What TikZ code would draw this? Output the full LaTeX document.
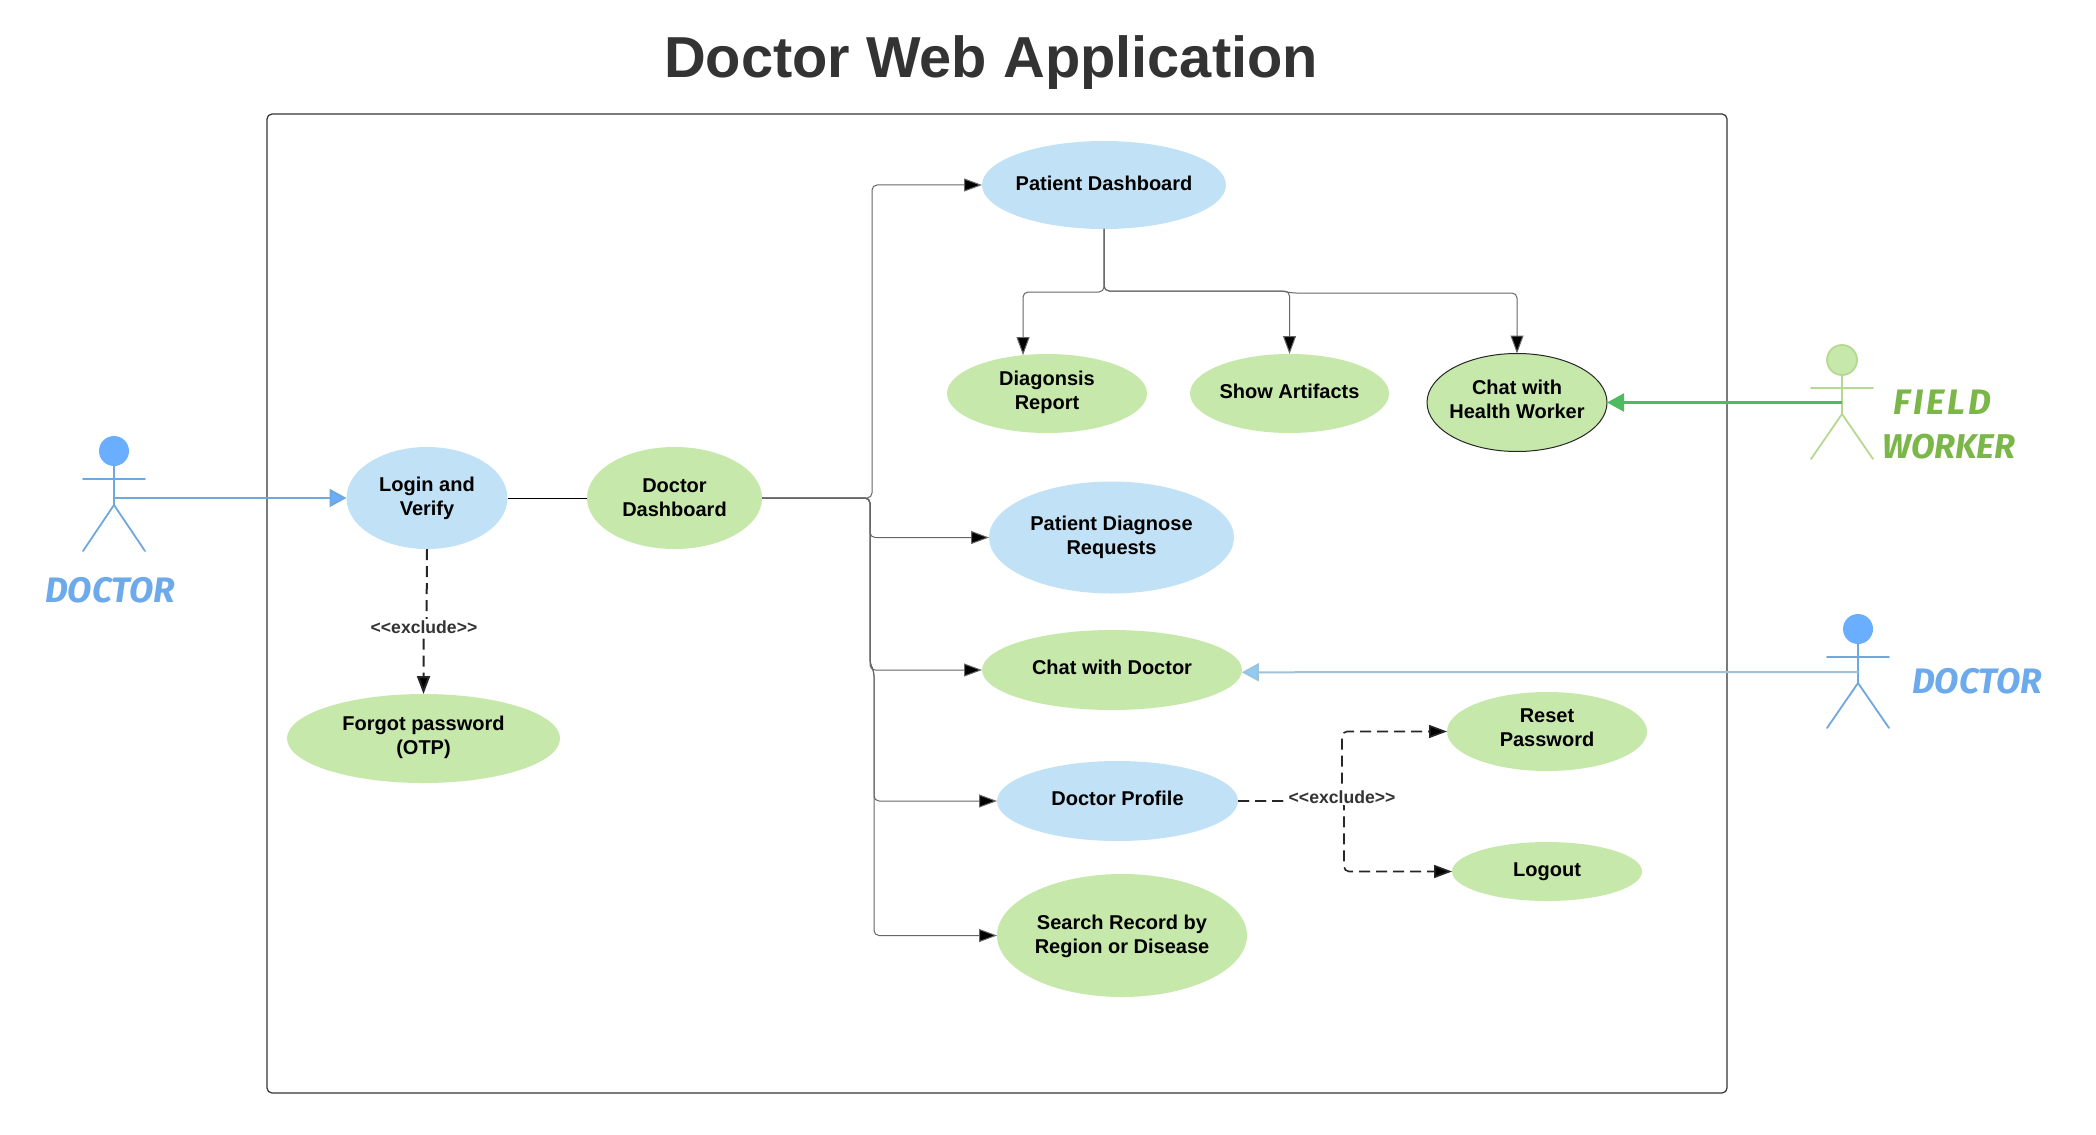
\documentclass[tikz,border=0pt]{standalone}
\usepackage{fontspec}
\setmainfont{Liberation Sans}
\newfontfamily\comicish{Fira Sans}
\usetikzlibrary{arrows.meta,shapes.geometric}
\definecolor{ucblue}{HTML}{C1E2F6}
\definecolor{ucgreen}{HTML}{C6E8AB}
\definecolor{actblue}{HTML}{6FA8DC}
\definecolor{headblue}{HTML}{6AAEFF}
\definecolor{txtblue}{HTML}{6DAAEC}
\definecolor{actgreen}{HTML}{B5D98F}
\definecolor{txtgreen}{HTML}{7AB648}
\definecolor{arrgreen}{HTML}{4DBB5F}
\definecolor{arrsky}{HTML}{8FCBF2}
\definecolor{linesky}{HTML}{9DC3DC}
\definecolor{darktxt}{HTML}{333333}
% a line that does not widen its ellipse
\newcommand{\nb}[1]{\makebox[0pt]{#1}}
% extra depth / height: moves the text up / down inside its ellipse
\newcommand{\tup}[1]{\rule[-#1pt]{0pt}{0pt}}
\newcommand{\tdn}[1]{\rule{0pt}{#1pt}}
\tikzset{
  uc/.style={ellipse,inner sep=0pt,outer sep=0pt,align=center,font=\fontsize{10}{12}\selectfont\bfseries,text=black},
  ucb/.style={uc,fill=ucblue},
  ucg/.style={uc,fill=ucgreen},
  flow/.style={draw=black!60,line width=0.5pt,rounded corners=2.5pt,-{Triangle[length=9pt,width=6.5pt,fill=black]}},
  plain/.style={draw=black,line width=0.5pt},
  excl/.style={draw=black!85,line width=0.8pt,dash pattern=on 5.5pt off 3pt,rounded corners=2.5pt,-{Triangle[length=9pt,width=6.5pt,fill=black]}},
  excllab/.style={fill=white,inner xsep=0pt,inner ysep=1pt,font=\fontsize{8.8}{10}\selectfont\bfseries,text=darktxt},
  limb/.style={line width=0.9pt,line cap=round},
  actlabel/.style={font=\comicish\fontsize{17.7}{20}\selectfont\bfseries\itshape,inner sep=0pt},
  head/.style={ellipse,inner sep=0pt,outer sep=0pt,minimum width=15pt,minimum height=15pt},
}
\begin{document}
\begin{tikzpicture}[x=0.5pt,y=-0.5pt]
\useasboundingbox (0,0) rectangle (2096,1134);
\fill[white] (0,0) rectangle (2096,1134);
\node[anchor=base,font=\fontsize{28.9}{34}\selectfont\bfseries,text=darktxt,inner sep=0pt] (title) at (991,78) {Doctor Web Application};
\node[draw=darktxt,line width=0.6pt,rounded corners=2.5pt,minimum width=730pt,minimum height=489.5pt,inner sep=0pt] (sysbox) at (997,603.5) {};

% use cases
\node[ucb,minimum width=80.5pt,minimum height=51pt] (login) at (427,498) {Login and\\Verify};
\node[ucg,minimum width=87.5pt,minimum height=51pt] (dash) at (674.5,498) {Doctor\\Dashboard};
\node[ucg,minimum width=136.5pt,minimum height=44.5pt] (forgot) at (423.5,738.5) {\nb{Forgot password}\\(OTP)\tup{3.3}};
\node[ucb,minimum width=122pt,minimum height=44pt] (pdash) at (1104,185) {\nb{Patient Dashboard}\tup{1.5}};
\node[ucg,minimum width=100pt,minimum height=39.5pt] (report) at (1047,393.5) {Diagonsis\\Report\tup{3.1}};
\node[ucg,minimum width=99.5pt,minimum height=39.5pt] (artifacts) at (1289.5,393.5) {\nb{Show Artifacts}\tup{2.7}};
\node[ucg,draw=black!85,line width=0.5pt,minimum width=90pt,minimum height=49pt] (chathw) at (1517,402.5) {Chat with\\\nb{Health Worker}\tup{2.9}};
\node[ucb,minimum width=122.5pt,minimum height=56pt] (diag) at (1111.5,537.5) {\nb{Patient Diagnose}\\Requests};
\node[ucg,minimum width=130pt,minimum height=40pt] (chatdoc) at (1112,670) {\nb{Chat with Doctor}\tup{2.7}};
\node[ucb,minimum width=120.5pt,minimum height=40pt] (profile) at (1117.5,801) {\nb{Doctor Profile}\tup{2.7}};
\node[ucg,minimum width=125pt,minimum height=61.5pt] (search) at (1122,935.5) {\nb{Search Record by}\tdn{8.5}\\\nb{Region or Disease}};
\node[ucg,minimum width=100pt,minimum height=39.5pt] (reset) at (1547,731.5) {Reset\\Password\tup{4}};
\node[ucg,minimum width=95pt,minimum height=29.5pt] (logout) at (1547,871.5) {Logout};

% left doctor
\node[head,fill=headblue] (hdl) at (114,451) {};
\coordinate (hipl) at (114,505);
\coordinate (handl) at (114,498);
\draw[limb,actblue] (hdl.south) -- (hipl) -- (83,551) (hipl) -- (145,551) (83,479) -- (145,479);
\node[actlabel,text=txtblue] (ldl) at (110,590) {DOCTOR};

% field worker
\node[head,fill=ucgreen,draw=actgreen,line width=0.9pt] (hfw) at (1842,360) {};
\coordinate (hipf) at (1842,414);
\coordinate (handf) at (1842,402.5);
\draw[limb,actgreen] (hfw.south) -- (hipf) -- (1811,459) (hipf) -- (1873,459) (1811,388) -- (1873,388);
\node[actlabel,text=txtgreen] (lfw1) at (1942,402) {\addfontfeature{LetterSpace=8}FIELD};
\node[actlabel,text=txtgreen,font=\comicish\fontsize{17.2}{20}\selectfont\bfseries\itshape] (lfw2) at (1949,447) {WORKER};

% right doctor
\node[head,fill=headblue] (hdr) at (1858,629) {};
\coordinate (hipr) at (1858,683);
\coordinate (handr) at (1858,672);
\draw[limb,actblue] (hdr.south) -- (hipr) -- (1827,728) (hipr) -- (1889,728) (1827,657) -- (1889,657);
\node[actlabel,text=txtblue] (ldr) at (1977,681) {DOCTOR};

% actor links
\draw[line width=1.1pt,actblue,-{Triangle[length=8.5pt,width=9pt,fill=headblue]}] (handl) -- (login.west);
\draw[line width=1.1pt,arrgreen,-{Triangle[length=8.5pt,width=9pt,fill=arrgreen]}] (handf) -- (chathw.east);
\draw[line width=1pt,linesky,-{Triangle[length=8.5pt,width=9pt,fill=arrsky]}] (handr) -- (chatdoc.-1);

% flows
\draw[plain] (login.east) -- (dash.west);
\draw[flow] (dash.east) -- (872,498) |- (pdash.west);
\draw[flow] (dash.east) -- (870,498) |- (diag.west);
\draw[flow] (dash.east) -- (870,498) |- (chatdoc.west);
\draw[flow] (dash.east) -- (870,498) -- (870,664) -- (874,671) |- (profile.west);
\draw[flow] (dash.east) -- (870,498) -- (870,664) -- (874,671) |- (search.west);

\draw[flow] (pdash.south) -- (1104,292) -| (report.122);
\draw[flow] (pdash.south) -- (1104,291) -| (artifacts.north);
\draw[flow] (pdash.south) -- (1104,291) -- (1283,291) -- (1291,293) -| (chathw.north);

% exclude
\draw[excl,line width=1pt] (login.south) -- (426.5,627) -- (423.5,627) -- (forgot.north);
\node[excllab] (ex1) at (424,627) {<{}<exclude>{}>};
\draw[excl] (profile.east) -- (1342,801) |- (reset.west);
\draw[excl] (profile.east) -- (1344,801) |- (logout.west);
\node[excllab] (ex2) at (1342,797) {<{}<exclude>{}>};
\end{tikzpicture}
\end{document}
